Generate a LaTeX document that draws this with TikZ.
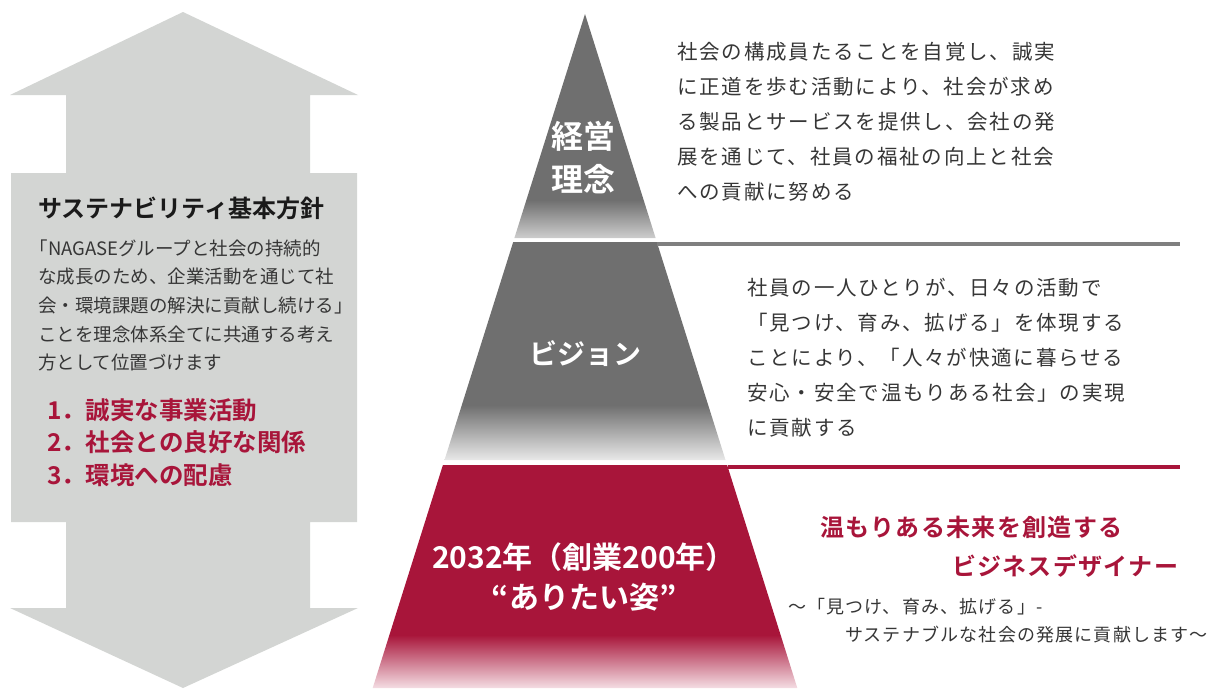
\documentclass[tikz,border=0pt]{standalone}
\usepackage{fontspec}
\setmainfont{Noto Sans CJK JP}[BoldFont={Noto Sans CJK JP Bold}]
\definecolor{arrowgray}{HTML}{D3D5D3}
\definecolor{pyrgray}{HTML}{6F6F6F}
\definecolor{pyrlightA}{HTML}{CDCDCD}
\definecolor{pyrlightB}{HTML}{E8E8E8}
\definecolor{nred}{HTML}{A8153A}
\definecolor{redlight}{HTML}{F4DDE3}
\definecolor{rulegray}{HTML}{7F7F7F}
\definecolor{txt}{HTML}{363636}
\definecolor{titletxt}{HTML}{1A1A1A}
\pgfdeclareverticalshading{tierA}{100bp}{color(0bp)=(pyrlightA); color(25bp)=(pyrlightA); color(33.5bp)=(pyrgray); color(100bp)=(pyrgray)}
\pgfdeclareverticalshading{tierB}{100bp}{color(0bp)=(pyrlightB); color(25bp)=(pyrlightB); color(37.6bp)=(pyrgray); color(100bp)=(pyrgray)}
\pgfdeclareverticalshading{tierC}{100bp}{color(0bp)=(redlight); color(25bp)=(redlight); color(36.9bp)=(nred); color(100bp)=(nred)}
\tikzset{
  plaintext/.style={inner sep=0pt, outer sep=0pt},
  tiertxt/.style={plaintext, text=white, align=center},
  lefttxt/.style={plaintext, anchor=west, align=left, text=txt},
  righttxt/.style={plaintext, anchor=west, align=left, text=txt,
     font=\fontsize{20.5}{35}\selectfont\addfontfeatures{LetterSpace=9}},
  redhead/.style={plaintext, anchor=west, text=nred,
     font=\fontsize{24}{30}\selectfont\bfseries\addfontfeatures{LetterSpace=5.5}},
  subtxt/.style={plaintext, anchor=west, text=txt,
     font=\fontsize{18}{24}\selectfont\addfontfeatures{LetterSpace=6.5}},
  tierrule/.style={line width=3.5pt}
}
\begin{document}
\begin{tikzpicture}[x=1pt,y=-1pt]
\useasboundingbox (0,0) rectangle (1223,688);
% left double arrow
\fill[arrowgray] (183,12) -- (358,95) -- (310,95) -- (310,173) -- (357,173)
  -- (357,522) -- (310,522) -- (310,608) -- (358,608) -- (183,688)
  -- (10,608) -- (66,608) -- (66,522) -- (11,522) -- (11,173) -- (66,173)
  -- (66,95) -- (10,95) -- cycle;
% pyramid
\coordinate (apex) at (585,14);
\coordinate (aL) at (514.4,238); \coordinate (aR) at (655.6,238);
\coordinate (bTL) at (513.2,242); \coordinate (bTR) at (656.8,242);
\coordinate (bBL) at (444.5,460); \coordinate (bBR) at (725.5,460);
\coordinate (cTL) at (442.9,465); \coordinate (cTR) at (727.1,465);
\coordinate (cBL) at (372.7,688); \coordinate (cBR) at (797.3,688);
\shade[shading=tierA] (apex) -- (aR) -- (aL) -- cycle;
\shade[shading=tierB] (bTL) -- (bTR) -- (bBR) -- (bBL) -- cycle;
\shade[shading=tierC] (cTL) -- (cTR) -- (cBR) -- (cBL) -- cycle;
% rules
\coordinate (grayS) at (657.4,244); \coordinate (grayE) at (1180,244);
\coordinate (redS) at (727.7,467); \coordinate (redE) at (1180,467);
\draw[tierrule, rulegray] (grayS) -- (grayE);
\draw[tierrule, nred] (redS) -- (redE);
% pyramid labels
\node[tiertxt, font=\fontsize{32}{43}\selectfont\bfseries] (keiei) at (583,158) {経営\\理念};
\node[tiertxt, font=\fontsize{28}{34}\selectfont\bfseries] (vision) at (585,354) {ビジョン};
\node[tiertxt, font=\fontsize{30}{40}\selectfont\bfseries] (sugata) at (584,577) {2032年（創業200年）\\“ありたい姿”};
% left texts
\node[plaintext, anchor=west, text=titletxt, font=\fontsize{24}{30}\selectfont\bfseries] (title) at (38,208) {サステナビリティ基本方針};
\node[lefttxt, font=\fontsize{18.5}{28.7}\selectfont] (policy) at (38,305.5)
  {\hspace*{-0.45em}「NAGASEグループと社会の持続的\\
   な成長のため、企業活動を通じて社\\
   会・環境課題の解決に貢献し続ける」\\
   ことを理念体系全てに共通する考え\\
   方として位置づけます};
\node[lefttxt, text=nred, font=\fontsize{24.5}{32.5}\selectfont\bfseries] (items) at (47,442.5)
  {1．誠実な事業活動\\2．社会との良好な関係\\3．環境への配慮};
% right texts
\node[righttxt] (rinen) at (677,122)
  {社会の構成員たることを自覚し、誠実\\
   に正道を歩む活動により、社会が求め\\
   る製品とサービスを提供し、会社の発\\
   展を通じて、社員の福祉の向上と社会\\
   への貢献に努める};
\node[righttxt] (visiontxt) at (747,358)
  {社員の一人ひとりが、日々の活動で\\
   「見つけ、育み、拡げる」を体現する\\
   ことにより、「人々が快適に暮らせる\\
   安心・安全で温もりある社会」の実現\\
   に貢献する};
\node[redhead] (headA) at (820,527) {温もりある未来を創造する};
\node[redhead] (headB) at (952,566) {ビジネスデザイナー};
\node[subtxt] (subA) at (788,607) {〜「見つけ、育み、拡げる」-};
\node[subtxt] (subB) at (845,635) {サステナブルな社会の発展に貢献します〜};
\end{tikzpicture}
\end{document}
